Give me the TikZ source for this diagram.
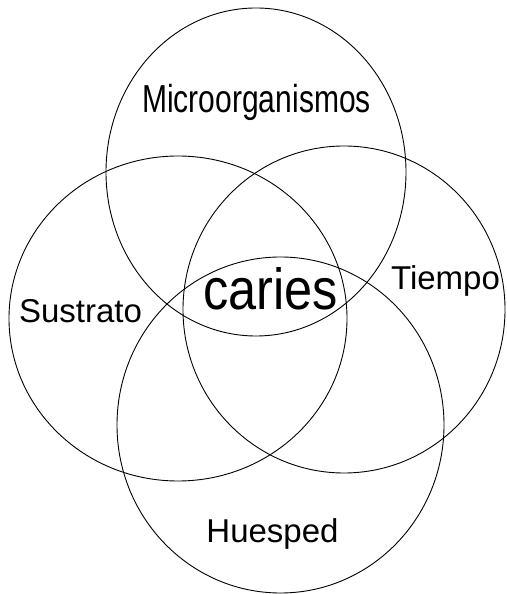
\documentclass[tikz,border=0pt]{standalone}
\usepackage{fontspec}
\setmainfont{Liberation Sans}
\usetikzlibrary{shapes.geometric}

\begin{document}
\begin{tikzpicture}[
  x=1pt, y=1pt,
  venn/.style={draw=black, ellipse, line width=0.9pt, inner sep=0pt},
  factor/.style={font=\fontsize{33}{36}\selectfont, anchor=base, inner sep=0pt},
  centre/.style={font=\fontsize{58}{60}\selectfont, anchor=base, inner sep=0pt}
]
\useasboundingbox (0,0) rectangle (506,594);

% the four overlapping factors
\node[venn, minimum width=300pt, minimum height=328pt] (micro) at (256,422) {};
\node[venn, minimum width=338pt, minimum height=325pt] (sust) at (178,275.5) {};
\node[venn, minimum width=322pt, minimum height=327pt] (tiempo) at (344,284.5) {};
\node[venn, minimum width=327pt, minimum height=336pt] (huesp) at (280.5,169) {};

\node[factor, font=\fontsize{39}{42}\selectfont] (lmicro) at (256.5,481) {\scalebox{0.77}[1]{Microorganismos}};
\node[factor] (lsust) at (80.5,271) {Sustrato};
\node[factor] (ltiempo) at (445.5,304) {Tiempo};
\node[factor] (lhuesp) at (272.5,51) {Huesped};
\node[centre] (caries) at (270.5,284) {\scalebox{0.87}[1]{caries}};
\end{tikzpicture}
\end{document}
